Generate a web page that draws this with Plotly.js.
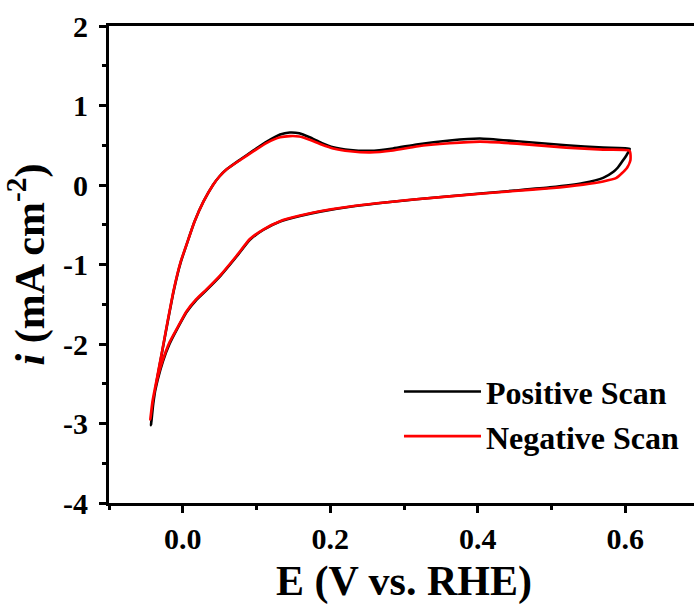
<!DOCTYPE html>
<html>
<head>
<meta charset="utf-8">
<script src="https://cdn.plot.ly/plotly-3.0.1.min.js"></script>
<style>
html, body { margin: 0; padding: 0; overflow: hidden; background: #fff; width: 694px; height: 607px; }
#chart { width: 720px; height: 607px; }
</style>
</head>
<body>
<div id="chart"></div>
<script>
// Positive scan (black) — closed CV loop: anodic branch then cathodic branch
const posE = [-0.043, -0.040, -0.035, -0.028, -0.020, -0.012, -0.003, 0.007, 0.016, 0.028, 0.041, 0.050, 0.060, 0.078, 0.096, 0.114, 0.132, 0.145, 0.158, 0.172, 0.188, 0.204, 0.227, 0.254, 0.285, 0.317, 0.362, 0.403, 0.453, 0.520, 0.570, 0.606,
              0.602, 0.597, 0.590, 0.584, 0.570, 0.543, 0.498, 0.450, 0.4075, 0.317, 0.227, 0.186, 0.159, 0.132, 0.109, 0.091, 0.073, 0.0505, 0.0325, 0.018, 0.005, -0.007, -0.018, -0.027, -0.034, -0.040, -0.043];
const posI = [-3.02, -2.75, -2.45, -2.10, -1.70, -1.32, -0.98, -0.70, -0.46, -0.21, 0.0, 0.11, 0.20, 0.32, 0.435, 0.545, 0.635, 0.66, 0.65, 0.60, 0.53, 0.475, 0.44, 0.43, 0.46, 0.51, 0.56, 0.585, 0.55, 0.50, 0.47, 0.455,
              0.38, 0.31, 0.22, 0.167, 0.09, 0.025, -0.03, -0.07, -0.104, -0.18, -0.273, -0.335, -0.39, -0.46, -0.566, -0.69, -0.90, -1.15, -1.32, -1.45, -1.60, -1.80, -2.00, -2.22, -2.45, -2.72, -3.02];

// Negative scan (red)
const negE = [-0.044, -0.041, -0.035, -0.028, -0.020, -0.012, -0.003, 0.007, 0.016, 0.028, 0.041, 0.050, 0.060, 0.078, 0.096, 0.114, 0.132, 0.145, 0.158, 0.172, 0.188, 0.204, 0.227, 0.254, 0.285, 0.317, 0.362, 0.403, 0.453, 0.520, 0.570, 0.606,
              0.607, 0.602, 0.588, 0.570, 0.543, 0.498, 0.450, 0.4075, 0.317, 0.227, 0.186, 0.159, 0.132, 0.109, 0.091, 0.073, 0.0505, 0.0325, 0.018, 0.005, -0.007, -0.018, -0.027, -0.034, -0.040, -0.044];
const negI = [-2.95, -2.72, -2.43, -2.09, -1.69, -1.31, -0.97, -0.70, -0.46, -0.21, 0.0, 0.11, 0.20, 0.315, 0.425, 0.53, 0.60, 0.615, 0.61, 0.57, 0.51, 0.46, 0.425, 0.41, 0.435, 0.485, 0.525, 0.545, 0.52, 0.47, 0.445, 0.43,
              0.31, 0.21, 0.09, 0.045, 0.005, -0.04, -0.075, -0.107, -0.18, -0.27, -0.33, -0.385, -0.455, -0.56, -0.68, -0.89, -1.14, -1.31, -1.44, -1.59, -1.79, -1.98, -2.20, -2.42, -2.68, -2.95];

const seriesNames = ['Positive Scan', 'Negative Scan'];
const xTickVals = [0, 0.2, 0.4, 0.6];
const xTickText = ['0.0', '0.2', '0.4', '0.6'];
const yTickVals = [-4, -3, -2, -1, 0, 1, 2];
const yTickText = ['-4', '-3', '-2', '-1', '0', '1', '2'];

const FONT = 'Liberation Serif, Times New Roman, serif';

const traces = [
  { x: posE, y: posI, name: seriesNames[0], mode: 'lines',
    line: { color: '#000000', width: 2.6, shape: 'spline', smoothing: 0.5 } },
  { x: negE, y: negI, name: seriesNames[1], mode: 'lines',
    line: { color: '#ff0000', width: 2.6, shape: 'spline', smoothing: 0.5 } }
];

const axisCommon = {
  showgrid: false, zeroline: false, showline: true, linecolor: '#000', linewidth: 3,
  ticks: 'outside', ticklen: 7, tickwidth: 3, tickcolor: '#000',
  tickfont: { family: FONT, size: 30, color: '#000', weight: 'bold' },
  tickmode: 'array'
};

const layout = {
  width: 720, height: 607,
  margin: { l: 109, r: 21, t: 26, b: 104 },
  paper_bgcolor: '#fff', plot_bgcolor: '#fff',
  showlegend: true,
  legend: {
    x: 0.4915, y: 0.291, xanchor: 'left', yanchor: 'top',
    font: { family: FONT, size: 32, color: '#000', weight: 'bold' },
    bgcolor: 'rgba(0,0,0,0)', traceorder: 'normal',
    itemwidth: 77
  },
  xaxis: Object.assign({}, axisCommon, {
    range: [-0.1, 0.7], tickvals: xTickVals, ticktext: xTickText,
    mirror: true,
    minor: { tickmode: 'linear', tick0: 0, dtick: 0.1, ticks: 'outside', ticklen: 4, tickwidth: 3, tickcolor: '#000' },
    title: { text: 'E (V vs. RHE)', standoff: 12, font: { family: FONT, size: 42, color: '#000', weight: 'bold' } }
  }),
  yaxis: Object.assign({}, axisCommon, {
    range: [-4, 2], tickvals: yTickVals, ticktext: yTickText,
    mirror: false, ticklabelstandoff: 5,
    minor: { tickmode: 'linear', tick0: 0, dtick: 0.5, ticks: 'outside', ticklen: 4, tickwidth: 3, tickcolor: '#000' },
    title: { text: '<i>i</i> (mA cm<sup>-2</sup>)', standoff: 6, font: { family: FONT, size: 42, color: '#000', weight: 'bold' } }
  })
};

Plotly.newPlot('chart', traces, layout, { displayModeBar: false, staticPlot: true });
</script>
</body>
</html>
